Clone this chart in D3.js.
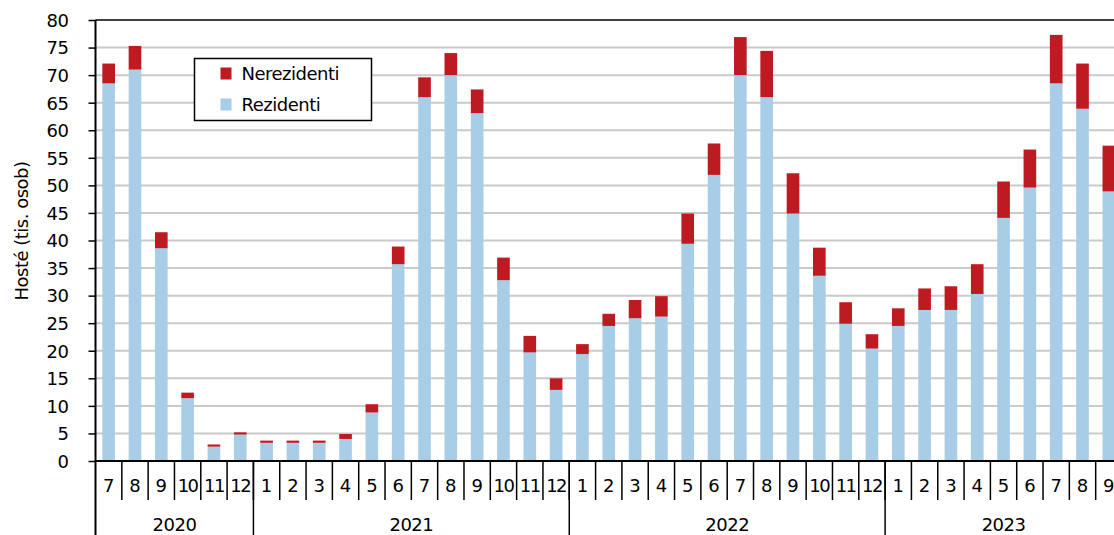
<!DOCTYPE html>
<html>
<head>
<meta charset="utf-8">
<script src="https://cdn.jsdelivr.net/npm/d3@7"></script>
<style>
body{margin:0;background:#fff;}
text{font-family:"DejaVu Sans",Verdana,sans-serif;fill:#000;}
</style>
</head>
<body>
<div id="root"></div>
<script>
// data
var months=['7','8','9','10','11','12',
 '1','2','3','4','5','6','7','8','9','10','11','12',
 '1','2','3','4','5','6','7','8','9','10','11','12',
 '1','2','3','4','5','6','7','8','9'];
var years=[{y:'2020',from:0,to:6},{y:'2021',from:6,to:18},{y:'2022',from:18,to:30},{y:'2023',from:30,to:39}];
var rezidenti=[68.5,71.0,38.6,11.4,2.6,4.8,
 3.3,3.3,3.3,4.0,8.8,35.7,66.0,70.0,63.1,32.8,19.7,12.9,
 19.4,24.5,25.9,26.2,39.4,51.9,70.0,66.0,44.9,33.6,24.9,20.4,
 24.5,27.4,27.4,30.3,44.1,49.6,68.5,63.9,48.9];
var celkem=[72.1,75.3,41.5,12.4,3.0,5.2,
 3.7,3.7,3.7,4.9,10.3,38.9,69.6,74.0,67.4,36.9,22.7,15.0,
 21.2,26.7,29.2,29.9,44.9,57.6,76.9,74.4,52.2,38.7,28.8,23.0,
 27.7,31.3,31.7,35.7,50.7,56.5,77.3,72.1,57.2];
var nerezidenti=celkem.map(function(t,i){return +(t-rezidenti[i]).toFixed(1)});
var yTicks=d3.range(0,81,5);

var W=1114,H=535;
var x0=95.5,x1=1122,yTop=20,yBot=461;

var svg=d3.select('#root').append('svg').attr('width',W).attr('height',H);

var scaleX=d3.scaleBand().domain(d3.range(months.length)).range([x0,x1]).paddingInner(0.52).paddingOuter(0.26);
var step=scaleX.step();
var scaleY=d3.scaleLinear().domain([0,80]).range([yBot,yTop]);

// gridlines
svg.append('g').selectAll('line').data(yTicks.filter(function(d){return d>0&&d<80}))
 .enter().append('line')
 .attr('x1',x0).attr('x2',W).attr('y1',function(d){return scaleY(d)}).attr('y2',function(d){return scaleY(d)})
 .attr('stroke','#cacaca').attr('stroke-width',2);

// bars
var bw=scaleX.bandwidth();
svg.append('g').selectAll('rect').data(rezidenti).enter().append('rect')
 .attr('x',function(d,i){return scaleX(i)}).attr('width',bw)
 .attr('y',function(d){return scaleY(d)}).attr('height',function(d){return scaleY(0)-scaleY(d)})
 .attr('fill','#a8cde7');
svg.append('g').selectAll('rect').data(nerezidenti).enter().append('rect')
 .attr('x',function(d,i){return scaleX(i)}).attr('width',bw)
 .attr('y',function(d,i){return scaleY(rezidenti[i]+d)}).attr('height',function(d){return scaleY(0)-scaleY(d)})
 .attr('fill','#be1a21');

// top border
svg.append('line').attr('x1',x0).attr('x2',W).attr('y1',yTop).attr('y2',yTop).attr('stroke','#404040').attr('stroke-width',2);

// y axis
var yAxis=d3.axisLeft(scaleY).tickValues(yTicks).tickSize(7).tickPadding(20);
var ya=svg.append('g').attr('transform','translate('+x0+',0)').call(yAxis);
ya.select('.domain').remove();
ya.selectAll('.tick line').attr('stroke','#000').attr('stroke-width',1.5);
ya.selectAll('text').style('font-size','18px').attr('x',-27).attr('dy','0.35em').style('letter-spacing','-0.5px');
svg.append('line').attr('x1',x0).attr('x2',x0).attr('y1',yTop).attr('y2',H).attr('stroke','#000').attr('stroke-width',2);

// x axis
svg.append('line').attr('x1',x0).attr('x2',W).attr('y1',yBot).attr('y2',yBot).attr('stroke','#000').attr('stroke-width',2);
svg.append('g').selectAll('line').data(d3.range(1,months.length+1)).enter().append('line')
 .attr('x1',function(i){return x0+i*step}).attr('x2',function(i){return x0+i*step})
 .attr('y1',yBot).attr('y2',500).attr('stroke','#000').attr('stroke-width',1.5);
svg.append('g').selectAll('text').data(months).enter().append('text')
 .attr('x',function(d,i){return scaleX(i)+bw/2}).attr('y',486).attr('dy','0.35em')
 .attr('text-anchor','middle').style('font-size','18px').style('letter-spacing',function(d){return d.length>1?'-1.5px':'0'})
 .text(function(d){return d});
svg.append('g').selectAll('line').data(years).enter().append('line')
 .attr('x1',function(d){return x0+d.to*step}).attr('x2',function(d){return x0+d.to*step})
 .attr('y1',yBot).attr('y2',H).attr('stroke','#000').attr('stroke-width',1.5);
svg.append('g').selectAll('text').data(years).enter().append('text')
 .attr('x',function(d){return x0+(d.from+d.to)/2*step}).attr('y',525).attr('dy','0.35em')
 .attr('text-anchor','middle').style('font-size','18px').style('letter-spacing','-0.5px')
 .text(function(d){return d.y});

// y title
svg.append('text').attr('transform','translate(22,231) rotate(-90)').attr('text-anchor','middle')
 .attr('dy','0.35em').style('font-size','18px').style('letter-spacing','-0.5px').text('Hosté (tis. osob)');

// legend
var lg=svg.append('g').attr('transform','translate(194.5,58.5)');
lg.append('rect').attr('width',177).attr('height',62).attr('fill','#fff').attr('stroke','#000').attr('stroke-width',1.5);
var items=[{n:'Nerezidenti',c:'#be1a21'},{n:'Rezidenti',c:'#a8cde7'}];
var li=lg.selectAll('.li').data(items).enter().append('g').attr('class','li')
 .attr('transform',function(d,i){return 'translate(26,'+(15+i*31)+')'});
li.append('rect').attr('width',11).attr('height',12).attr('y',-6).attr('fill',function(d){return d.c});
li.append('text').attr('x',21).attr('dy','0.35em').style('font-size','18px').style('letter-spacing','-0.5px').text(function(d){return d.n});
</script>
</body>
</html>
